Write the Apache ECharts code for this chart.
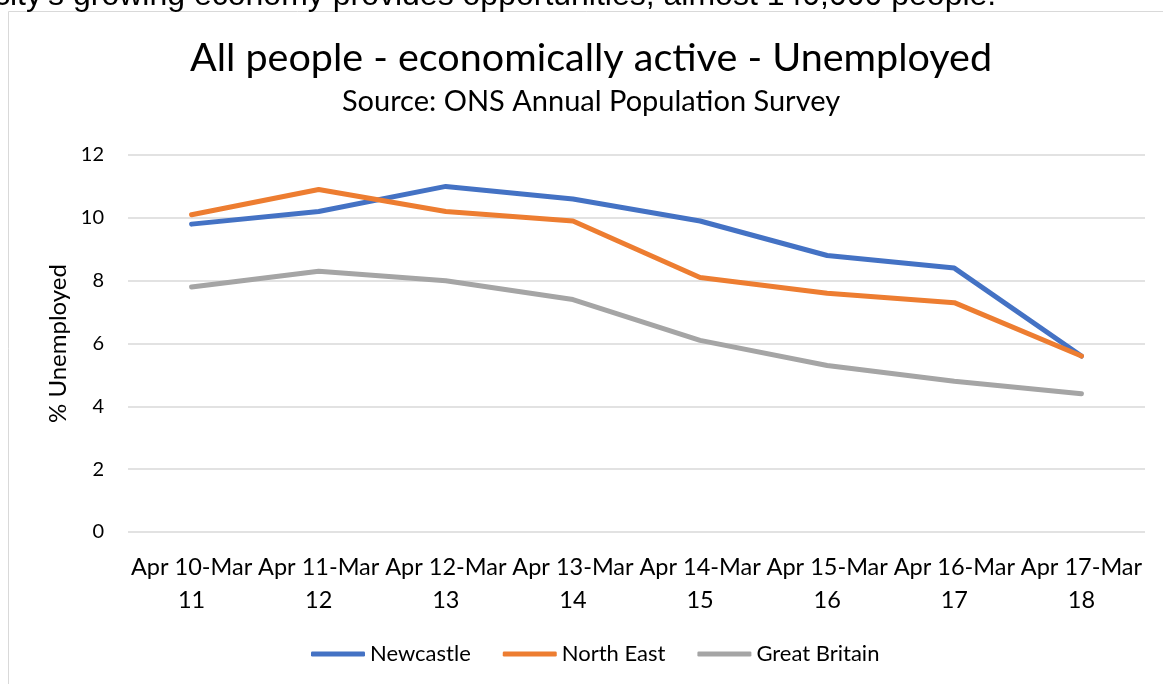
<!DOCTYPE html>
<html>
<head>
    <meta charset="utf-8">
    <title>Unemployed</title>
    <script src="https://cdn.jsdelivr.net/npm/echarts@6/dist/echarts.min.js"></script>
    <style>
        html, body { margin: 0; padding: 0; background: #fff; }
        #charts { width: 1163px; height: 684px; }
    </style>
</head>
<body>
<div id="charts"></div>
<script>
    // periods (wrapped like the original axis)
    var periods = ['Apr 10-Mar\n11', 'Apr 11-Mar\n12', 'Apr 12-Mar\n13', 'Apr 13-Mar\n14',
        'Apr 14-Mar\n15', 'Apr 15-Mar\n16', 'Apr 16-Mar\n17', 'Apr 17-Mar\n18'];
    var newcastle = [9.8, 10.2, 11.0, 10.6, 9.9, 8.8, 8.4, 5.6];
    var northEast = [10.1, 10.9, 10.2, 9.9, 8.1, 7.6, 7.3, 5.6];
    var greatBritain = [7.8, 8.3, 8.0, 7.4, 6.1, 5.3, 4.8, 4.4];

    var font = 'Lato';
    var myChart = echarts.init(document.getElementById('charts'));

    function line(name, color, data) {
        return {
            name: name,
            type: 'line',
            symbol: 'none',
            lineStyle: {width: 5, color: color, cap: 'round'},
            itemStyle: {color: color},
            data: data
        };
    }

    var option = {
        animation: false,
        title: {
            left: 586,
            top: 33,
            textAlign: 'center',
            itemGap: 9,
            text: 'All people - economically active - Unemployed',
            subtext: 'Source: ONS Annual Population Survey',
            textStyle: {fontFamily: font, fontSize: 39.5, fontWeight: 'normal', color: '#000'},
            subtextStyle: {fontFamily: font, fontSize: 29, color: '#000'}
        },
        graphic: [
            {
                type: 'rect', silent: true,
                shape: {x: 8.5, y: 11.5, width: 1300, height: 800},
                style: {fill: 'none', stroke: '#d9d9d9', lineWidth: 1}
            },
            {
                type: 'text', silent: true,
                style: {
                    x: -6, y: -4, verticalAlign: 'middle',
                    text: "city's growing economy provides opportunities, almost 140,000 people.",
                    font: '32px "Liberation Sans"', fill: '#000'
                }
            }
        ],
        legend: {
            bottom: 14,
            left: 306,
            icon: 'roundRect',
            itemWidth: 54,
            itemHeight: 5,
            itemGap: 32,
            textStyle: {fontFamily: font, fontSize: 22, color: '#000'},
            data: ['Newcastle', 'North East', 'Great Britain']
        },
        grid: {left: 128, right: 18, top: 155, bottom: 152},
        xAxis: {
            type: 'category',
            data: periods,
            axisLine: {show: false},
            axisTick: {show: false},
            axisLabel: {
                fontFamily: font, fontSize: 23.5, color: '#000', margin: 19,
                interval: 0, lineHeight: 33
            }
        },
        yAxis: {
            type: 'value',
            min: 0,
            max: 12,
            interval: 2,
            name: '% Unemployed',
            nameLocation: 'middle',
            nameGap: 56,
            nameTextStyle: {fontFamily: font, fontSize: 24, color: '#000'},
            axisLabel: {fontFamily: font, fontSize: 20, color: '#000', margin: 24},
            splitLine: {lineStyle: {color: '#d9d9d9', width: 1.5}}
        },
        series: [
            line('Newcastle', '#4472C4', newcastle),
            line('North East', '#ED7D31', northEast),
            line('Great Britain', '#A5A5A5', greatBritain)
        ]
    };
    myChart.setOption(option);
</script>
</body>
</html>
